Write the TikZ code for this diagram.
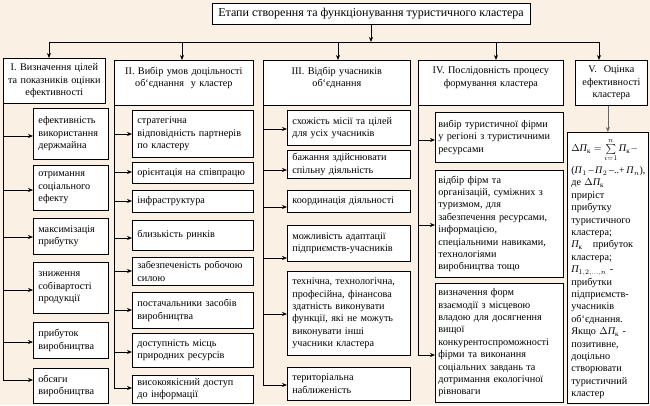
\documentclass[tikz,border=0pt]{standalone}
\usepackage{amsmath}
\usepackage{fontspec}
\setmainfont{Liberation Serif}
\usetikzlibrary{arrows.meta}
\definecolor{bgpeach}{RGB}{251,240,228}
\begin{document}
\begin{tikzpicture}[x=1pt,y=-1pt,
 every node/.style={font=\fontsize{10.2}{12.4}\selectfont},
 box/.style={draw=black, fill=white, line width=0.7pt, anchor=north west, inner ysep=2pt},
 head/.style={box, align=center, inner xsep=3pt, minimum height=45pt},
 sub/.style={box, align=left, inner xsep=5pt},
 ln/.style={line width=0.7pt, draw=black},
 arr/.style={ln, -{Stealth[length=5pt,width=4pt]}}
]
\fill[bgpeach] (0,0) rectangle (650,405);
\useasboundingbox (0,0) rectangle (650,405);

% title
\node[draw=black, fill=white, line width=0.7pt, minimum width=318pt, minimum height=21pt, font=\fontsize{12}{14}\selectfont] (title) at (371,13.5) {Етапи створення та функціонування туристичного кластера};
\coordinate (hL) at (49,42);
\coordinate (hR) at (599,42);
\coordinate (c2) at (182,42);
\coordinate (c3) at (338,42);
\coordinate (c4) at (496,42);
\draw[ln] (hL) -- (hR);
\draw[arr] (title.south) -- (title.south |- hL);

% headers
\node[head, text width=96pt] (h1) at (3,58) {I. Визначення цілей\\та показників оцінки\\ефективності};
\node[head, text width=133pt] (h2) at (114,60) {II. Вибір умов доцільності\\об`єднання~~у кластер\\\mbox{}};
\node[head, text width=141pt] (h3) at (263,60) {III. Відбір учасників\\об`єднання\\\mbox{}};
\node[head, text width=139pt] (h4) at (418,60) {IV. Послідовність процесу\\формування кластера\\\mbox{}};
\node[head, text width=66pt] (h5) at (575,60) {V.~~Оцінка\\ефективності\\кластера};

\draw[arr] (hL) -- (hL |- h1.north);
\draw[arr] (c2) -- (c2 |- h2.north);
\draw[arr] (c3) -- (c3 |- h3.north);
\draw[arr] (c4) -- (c4 |- h4.north);
\draw[arr] (hR) -- (hR |- h5.north);

% column 1
\node[sub, text width=65pt, minimum height=51pt] (b11) at (33,108) {ефективність\\використання\\держмайна};
\node[sub, text width=65pt, minimum height=45pt] (b12) at (33,165) {отримання\\соціального\\ефекту};
\node[sub, text width=65pt, minimum height=36pt] (b13) at (33,218) {максимізація\\прибутку};
\node[sub, text width=65pt, minimum height=51pt] (b14) at (33,262) {зниження\\собівартості\\продукції};
\node[sub, text width=65pt, minimum height=36pt] (b15) at (33,322) {прибуток\\виробництва};
\node[sub, text width=65pt, minimum height=35pt] (b16) at (33,368) {обсяги\\виробництва};
\coordinate (t11) at (3,136);
\coordinate (t12) at (3,190);
\coordinate (t13) at (3,237);
\coordinate (t14) at (3,290);
\coordinate (t15) at (3,342);
\coordinate (t16) at (3,380);
\draw[ln] (h1.south west) -- (t16);
\foreach \i in {1,...,6} {\draw[arr] (t1\i) -- (t1\i -| b1\i.west);}

% column 2
\node[sub, text width=111pt, minimum height=47pt] (b21) at (132,110) {стратегічна\\відповідність партнерів\\по кластеру};
\node[sub, text width=111pt, minimum height=21pt] (b22) at (132,162) {орієнтація на співпрацю};
\node[sub, text width=111pt, minimum height=22pt] (b23) at (132,190) {інфраструктура};
\node[sub, text width=111pt, minimum height=30pt] (b24) at (132,220) {близькість ринків};
\node[sub, text width=111pt, minimum height=28pt] (b25) at (132,257) {забезпеченість робочою\\силою};
\node[sub, text width=111pt, minimum height=36pt] (b26) at (132,292) {постачальники засобів\\виробництва};
\node[sub, text width=111pt, minimum height=34pt] (b27) at (132,333) {доступність місць\\природних ресурсів};
\node[sub, text width=111pt, minimum height=28pt] (b28) at (132,375) {високоякісний доступ\\до інформації};
\coordinate (t21) at (114,134);
\coordinate (t22) at (114,172);
\coordinate (t23) at (114,201);
\coordinate (t24) at (114,238);
\coordinate (t25) at (114,271);
\coordinate (t26) at (114,310);
\coordinate (t27) at (114,352);
\coordinate (t28) at (114,388);
\draw[ln] (h2.south west) -- (t28);
\foreach \i in {1,...,8} {\draw[arr] (t2\i) -- (t2\i -| b2\i.west);}

% column 3
\node[sub, text width=113pt, minimum height=35pt] (b31) at (287,110) {схожість місії та цілей\\для усіх учасників};
\node[sub, text width=113pt, minimum height=28pt] (b32) at (287,150) {бажання здійснювати\\спільну діяльність};
\node[sub, text width=113pt, minimum height=22pt] (b33) at (287,190) {координація діяльності};
\node[sub, text width=113pt, minimum height=36pt] (b34) at (287,225) {можливість адаптації\\підприємств-учасників};
\node[sub, text width=113pt, minimum height=84pt] (b35) at (287,271) {технічна, технологічна,\\професійна, фінансова\\здатність виконувати\\функції, які не можуть\\виконувати інші\\учасники кластера};
\node[sub, text width=113pt, minimum height=33pt] (b36) at (287,367) {територіальна\\наближеність};
\coordinate (t31) at (263,129);
\coordinate (t32) at (263,170);
\coordinate (t33) at (263,207);
\coordinate (t34) at (263,258);
\coordinate (t35) at (263,314);
\coordinate (t36) at (263,385);
\draw[ln] (h3.south west) -- (t36);
\foreach \i in {1,...,6} {\draw[arr] (t3\i) -- (t3\i -| b3\i.west);}

% column 4
\node[sub, inner xsep=3pt, text width=122pt, minimum height=50pt] (b41) at (435,112) {вибір туристичної фірми\\у регіоні з туристичними\\ресурсами};
\node[sub, inner xsep=3pt, text width=122pt, minimum height=107pt] (b42) at (435,170) {відбір фірм та\\організацій, суміжних з\\туризмом, для\\забезпечення ресурсами,\\інформацією,\\спеціальними навиками,\\технологіями\\виробництва тощо};
\node[sub, inner xsep=3pt, text width=122pt, minimum height=119pt] (b43) at (435,283) {визначення форм\\взаємодії з місцевою\\владою для досягнення\\вищої\\конкурентоспроможності\\фірми та виконання\\соціальних завдань та\\дотримання екологічної\\рівноваги};
\coordinate (t41) at (418,140);
\coordinate (t42) at (418,225);
\coordinate (t43) at (418,355);
\draw[ln] (h4.south west) -- (t43);
\foreach \i in {1,...,3} {\draw[arr] (t4\i) -- (t4\i -| b4\i.west);}

% column 5
\node[sub, inner xsep=4pt, text width=73pt, minimum height=271pt] (b5) at (567,132) {%
\rule{0pt}{15pt}$\Delta\textit{П}_{\text{к}} = \sum\limits_{i=1}^{n}\textit{П}_{\text{к}} -$\\[4pt]
\mbox{\fontsize{10}{12}\selectfont(\textit{П}$_1$\,–\,\textit{П}$_2$\,–..+\,\textit{П}$_n$),}\\
де $\Delta\textit{П}_{\text{к}}$\\
приріст\\
прибутку\\
туристичного\\
кластера;\\
$\textit{П}_{\text{к}}$\quad прибуток\\
кластера;\\
$\textit{П}_{1,2,\dots,n}$ -\\
прибутки\\
підприємств-\\
учасників\\
об`єднання.\\
Якщо $\Delta\textit{П}_{\text{к}}$ -\\
позитивне,\\
доцільно\\
створювати\\
туристичний\\
кластер};
\draw[arr, draw=black!60] (h5.south -| b5.north) -- (b5.north);
\end{tikzpicture}
\end{document}
